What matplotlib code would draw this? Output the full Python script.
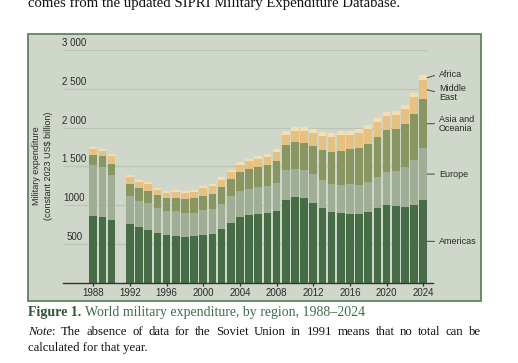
import numpy as np
import matplotlib
matplotlib.use('Agg')
import matplotlib.pyplot as plt
from matplotlib.patches import Rectangle

nan = np.nan

# SIPRI world military expenditure by region, constant 2023 US$ billion
years = list(range(1988, 2025))
americas = [859, 846, 807, nan, 756, 717, 679, 640, 614, 601, 588, 601, 614, 627, 691, 769, 846,
            872, 891, 898, 923, 1065, 1104, 1091, 1026, 962, 910, 898, 885, 885, 910, 962, 1000,
            988, 975, 1000, 1065]
europe = [657, 644, 580, nan, 360, 335, 347, 322, 309, 322, 310, 297, 322, 322, 322, 347, 335,
          335, 341, 347, 361, 386, 360, 360, 374, 360, 361, 360, 386, 373, 387, 399, 426,
          450, 515, 580, 670]
asia = [128, 142, 141, nan, 155, 167, 155, 167, 168, 168, 180, 193, 180, 193, 219, 219, 244,
        257, 264, 271, 283, 322, 348, 348, 360, 387, 412, 438, 451, 477, 489, 515, 541,
        541, 554, 592, 630]
middle_east = [78, 64, 104, nan, 90, 78, 86, 65, 64, 77, 77, 77, 103, 103, 90, 90, 91,
               103, 103, 103, 116, 129, 141, 154, 168, 180, 193, 206, 180, 193, 193, 193, 180,
               180, 193, 219, 245]
africa = [25, 26, 25, nan, 26, 25, 30, 25, 26, 26, 26, 26, 26, 26, 39, 26, 38,
          32, 32, 35, 39, 51, 52, 52, 51, 52, 52, 51, 51, 51, 52, 52, 51, 52, 51, 52, 65]

regions = ['Americas', 'Europe', 'Asia and\nOceania', 'Middle\nEast', 'Africa']
series = [americas, europe, asia, middle_east, africa]
colors = ['#466d46', '#a0ae96', '#8a9660', '#e6c17f', '#f4dfb2']

yticks = [500, 1000, 1500, 2000, 2500, 3000]
ytick_labels = ['500', '1000', '1 500', '2 000', '2 500', '3 000']
xticks = list(range(1988, 2025, 4))

W, H = 518, 363
bg = '#cfd6ca'
ink = '#2b2b2b'
sans = 'Liberation Sans'
serif = 'Liberation Serif'


def fx(px):
    return px / W


def fy(py):
    return 1 - py / H


fig = plt.figure(figsize=(W / 100, H / 100), dpi=100)
fig.patch.set_facecolor('white')

# panel behind the chart
fig.patches.append(Rectangle((fx(28), fy(301)), fx(481) - fx(28), fy(34) - fy(301),
                             transform=fig.transFigure, facecolor=bg,
                             edgecolor='#5d845f', lw=1.3, zorder=-10))

ax = fig.add_axes([fx(63), fy(282.7), fx(433) - fx(63), fy(50) - fy(282.7)])
ax.set_zorder(5)
ax.set_facecolor('none')
ax.set_xlim(1984.7, 2025.06)
ax.set_ylim(0, 3000)

bottom = np.zeros(len(years))
for vals, c in zip(series, colors):
    v = np.array(vals, dtype=float)
    ax.bar(years, v, bottom=bottom, width=0.84, color=c, linewidth=0, zorder=3)
    bottom = bottom + np.nan_to_num(v)

ax.hlines(yticks, 1984.7, 2024.42, color='#bcc4b8', lw=0.9, zorder=1)
for v, lab in zip(yticks, ytick_labels):
    ax.text(0.0305, v + 25, lab, transform=ax.get_yaxis_transform(), ha='center', va='bottom',
            fontsize=7, family=sans, color=ink, zorder=4)

for s in ['left', 'right', 'top']:
    ax.spines[s].set_visible(False)
ax.spines['bottom'].set_color('#333333')
ax.spines['bottom'].set_linewidth(1.0)
ax.spines['bottom'].set_zorder(5)
ax.set_yticks([])
ax.set_xticks(xticks)
ax.set_xticklabels([str(x) for x in xticks], fontsize=7, family=sans, color=ink)
ax.tick_params(axis='x', direction='out', length=2.5, width=0.9, color='#333333', pad=1.5)

# region labels pointing at the 2024 bar
last = [s[-1] for s in series]
tops = np.cumsum(last)
mids = tops - np.array(last) / 2
dys = [0, 0, 0, -2.2, 2.6]
for lab, m, dy in zip(regions, mids, dys):
    ax.annotate(lab, xy=(2024.42, m), xytext=(8.6, dy), textcoords='offset points',
                ha='left', va='center', fontsize=6.5, family=sans, color=ink,
                linespacing=1.0, annotation_clip=False,
                arrowprops=dict(arrowstyle='-', color='#555555', lw=0.8,
                                shrinkA=1.3, shrinkB=0, relpos=(0, 0.5)))

fig.text(fx(42.5), fy(166), 'Military expenditure\n(constant 2023 US$ billion)', rotation=90,
         ha='center', va='center', fontsize=6.5, family=sans, color=ink, linespacing=1.45)

# surrounding page text
fig.text(fx(28), fy(7.5), 'comes from the updated SIPRI Military Expenditure Database.',
         fontsize=10.6, family=serif, color='#111111', va='baseline')

r = fig.canvas.get_renderer()
cap1 = fig.text(fx(28), fy(316), 'Figure 1.', fontsize=10, family=serif, weight='bold',
                color='#2f5538', va='baseline')
w1 = cap1.get_window_extent(r).width
fig.text(fx(28 + w1 + 3.5), fy(316), 'World military expenditure, by region, 1988\u20132024',
         fontsize=10, family=serif, color='#3d6e4c', va='baseline')

note_words = [[('Note', 'italic'), (':', 'normal')]] + [[(w, 'normal')] for w in
              'The absence of data for the Soviet Union in 1991 means that no total can be'.split()]


def justify(words, x0, x1, y, size):
    placed = []
    total = 0
    for word in words:
        parts = []
        for s, st in word:
            t = fig.text(0, fy(y), s, fontsize=size, family=serif, style=st, color='#111111',
                         va='baseline')
            parts.append((t, t.get_window_extent(r).width))
        placed.append(parts)
        total += sum(p[1] for p in parts)
    gap = (x1 - x0 - total) / (len(words) - 1)
    x = x0
    for parts in placed:
        for t, w in parts:
            t.set_x(fx(x))
            x += w
        x += gap


justify(note_words, 28, 481, 335, 9.2)
fig.text(fx(28), fy(351.5), 'calculated for that year.', fontsize=9.2, family=serif,
         color='#111111', va='baseline')

fig.savefig('out.png', dpi=100)
